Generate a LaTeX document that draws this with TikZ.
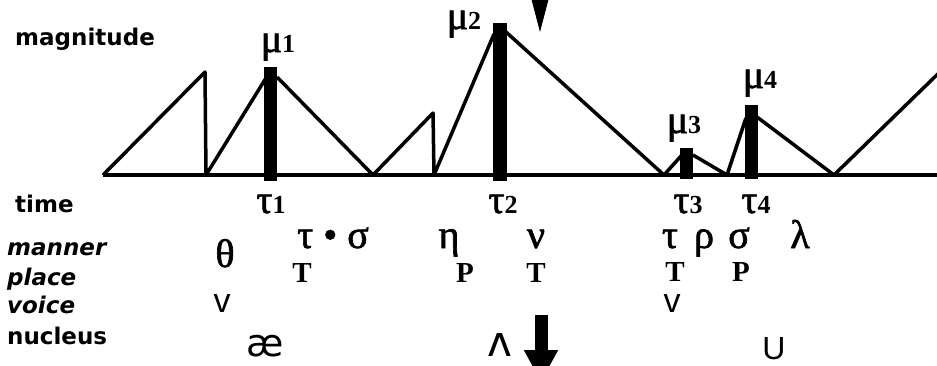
\documentclass[tikz,border=0pt]{standalone}
\usepackage{fontspec}
\setmainfont{Liberation Serif}
\newfontfamily\labelfont{DejaVu Sans}
\newfontfamily\ipafont{DejaVu Sans}
\newfontfamily\greekfont{Liberation Serif}[FakeBold=1.6]
\newfontfamily\digitfont{Liberation Serif}
\newfontfamily\plainsans{Liberation Sans}
\usepackage{xcolor}
\definecolor{inkblack}{RGB}{0,0,0}
\usetikzlibrary{arrows.meta, positioning}

\newcommand{\rowsize}{\fontsize{23}{23}\selectfont}
\newcommand{\gksize}{\fontsize{40}{40}\selectfont}
\newcommand{\digsize}{\digitfont\bfseries\fontsize{26}{26}\selectfont}

\tikzset{
  rowlbl/.style={font=\labelfont\bfseries\rowsize, anchor=base west, inner sep=0pt},
  rowlblit/.style={font=\labelfont\bfseries\itshape\rowsize, anchor=base west, inner sep=0pt},
  gk/.style={font=\greekfont\gksize, anchor=base, inner sep=0pt},
  featlbl/.style={font=\digitfont\bfseries\fontsize{29}{29}\selectfont, anchor=base, inner sep=0pt},
  envline/.style={inkblack, line width=3.5pt, line join=round},
  peakbar/.style={fill=inkblack}
}

\begin{document}
\begin{tikzpicture}[x=1pt, y=-1pt]
  \useasboundingbox (0,0) rectangle (937,365);
  \clip (0,0) rectangle (937,365);

  % --- Time axis and envelope ---
  \draw[envline] (103,175) -- (945,175);
  \draw[envline] (103,175) -- (205,72) -- (206,175) -- (266,78);
  \draw[envline] (277,77) -- (373,175) -- (433,113) -- (434,175) -- (494,34);
  \draw[envline] (506,32) -- (664,175) -- (681,156);
  \draw[envline] (693,155) -- (727,175) -- (746,118);
  \draw[envline] (757,117) -- (834,175) -- (945,67);

  % Peak bars
  \fill[peakbar] (264,67) rectangle (277,181);
  \fill[peakbar] (493,23) rectangle (507,181);
  \fill[peakbar] (680,148) rectangle (693,179);
  \fill[peakbar] (745,105) rectangle (758,179);

  % Peak labels
  \node[gk] (mu1) at (278,52) {μ{\digsize 1}};
  \node[gk] (mu2) at (464,29) {μ{\digsize 2}};
  \node[gk] (mu3) at (684,133) {μ{\digsize 3}};
  \node[gk] (mu4) at (760,88) {μ{\digsize 4}};

  % Time labels
  \node[gk] (tau1) at (271,213) {τ{\digsize 1}};
  \node[gk] (tau2) at (503,213) {τ{\digsize 2}};
  \node[gk] (tau3) at (688,213) {τ{\digsize 3}};
  \node[gk] (tau4) at (756,213) {τ{\digsize 4}};

  % --- Row labels ---
  \node[rowlbl] (lblmag) at (15,45) {magnitude};
  \node[rowlbl] (lbltime) at (15,212) {time};
  \node[rowlblit] (lblmanner) at (7,255) {manner};
  \node[rowlblit] (lblplace) at (7,285) {place};
  \node[rowlblit] (lblvoice) at (7,313) {voice};
  \node[rowlbl] (lblnucleus) at (7,344) {nucleus};

  % Manner row
  \node[gk] (mtheta) at (225,267) {θ};
  \node[gk] (mtausigma) at (333,248) {τ • σ};
  \node[gk] (meta) at (449,248) {η};
  \node[gk] (mnu) at (536,248) {ν};
  \node[gk] (mtau) at (670,248) {τ};
  \node[gk] (mrho) at (704,248) {ρ};
  \node[gk] (msigma) at (739,248) {σ};
  \node[gk] (mlambda) at (800,248) {λ};

  % Place row
  \node[featlbl] (pt1) at (302,282) {T};
  \node[featlbl] (pp1) at (465,282) {P};
  \node[featlbl] (pt2) at (536,282) {T};
  \node[featlbl] (pt3) at (675,281) {T};
  \node[featlbl] (pp2) at (741,281) {P};

  % Voice row
  \node[font=\plainsans\fontsize{34}{34}\selectfont, anchor=base, inner sep=0pt] (v1) at (222,312) {v};
  \node[font=\plainsans\fontsize{34}{34}\selectfont, anchor=base, inner sep=0pt] (v2) at (672,312) {v};

  % Nucleus row
  \node[font=\ipafont\fontsize{38}{38}\selectfont, anchor=base, inner sep=0pt] (nae) at (265,356) {æ};
  \node[font=\ipafont\fontsize{42}{42}\selectfont, anchor=base, inner sep=0pt] (nwedge) at (500,356) {ʌ};
  \node[font=\plainsans\fontsize{32}{32}\selectfont, anchor=base, inner sep=0pt] (nu) at (774,359) {U};

  % --- Arrows ---
  \coordinate (toptail) at (540,-40);
  \coordinate (toptip) at (540,32);
  \draw[line width=1pt, -{Triangle[length=33pt, width=17pt]}] (toptail) -- (toptip);
  \coordinate (bottail) at (541,315);
  \coordinate (bottip) at (541,382);
  \draw[line width=13pt, -{Triangle[length=32pt, width=32pt]}] (bottail) -- (bottip);
\end{tikzpicture}
\end{document}
